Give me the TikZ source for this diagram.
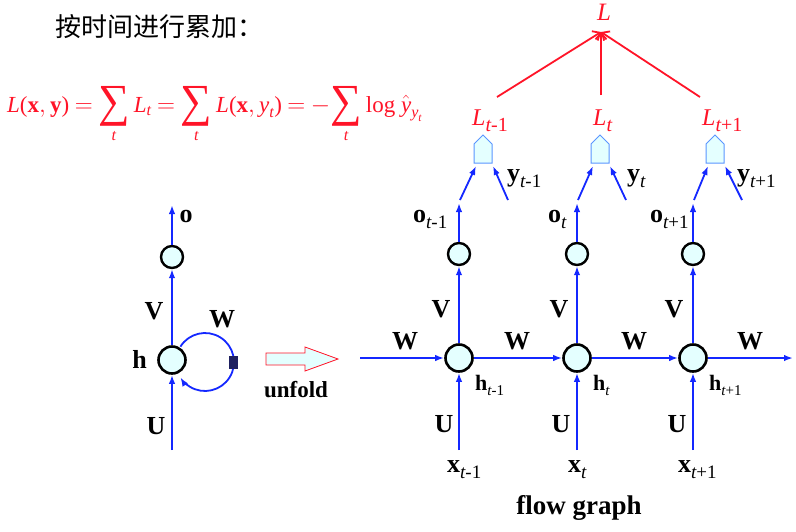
\documentclass[tikz,border=0pt]{standalone}
\usepackage{amsmath}
\usepackage{graphicx}
\usepackage{fontspec}
\setmainfont{Liberation Serif}
\newfontfamily\cjk{Noto Sans CJK SC}
\usetikzlibrary{arrows.meta}
\definecolor{lblue}{RGB}{20,40,255}
\definecolor{cellfill}{RGB}{228,255,255}
\definecolor{lred}{RGB}{255,20,40}
\definecolor{pentline}{RGB}{90,150,255}
\definecolor{navy}{RGB}{30,32,96}
\newcommand\fs[1]{\fontsize{#1}{#1}\selectfont}
\newcommand\lab[5]{{\fs{#3}#1}\raisebox{-#5}{\fs{#4}#2}}
\newcommand\msum{\mathop{\text{\raisebox{-4pt}{\scalebox{1.3}[1.35]{\fs{34}\upshape ∑}}}}\limits_{\text{\itshape t}}}
\begin{document}
\begin{tikzpicture}[x=1pt,y=-1pt,
 conn/.style={draw=lblue,line width=1.8pt,-{Latex[length=9pt,width=6.5pt]}},
 hcell/.style={circle,draw=black,line width=2.6pt,fill=cellfill,inner sep=0pt,minimum size=27pt},
 ocell/.style={circle,draw=black,line width=2.4pt,fill=cellfill,inner sep=0pt,minimum size=22pt},
 big/.style={font=\fs{26}\bfseries,inner sep=0pt},
 sublab/.style={inner sep=0pt,anchor=base west},
 redl/.style={draw=lred,line width=1.8pt,-{Straight Barb[length=6pt,width=11pt]}},
 pent/.style={draw=pentline,line width=1pt,fill=cellfill},
]
\useasboundingbox[fill=white] (0,0) rectangle (796,531);
% title
\node[anchor=base west,inner sep=0pt,font=\cjk\fs{26}] (title) at (55,36) {按时间进行累加：};
% formula
\node[anchor=base west,inner sep=0pt,text=lred,font=\fs{23}] (formula) at (7,112)
 {$\thickmuskip=4mu\text{\itshape L}\text{(}\text{\bfseries x},\text{\bfseries y}\text{)} = \msum \text{\itshape L}_{\text{\itshape t}} = \msum \text{\itshape L}\text{(}\text{\bfseries x}, \text{\itshape y}_{\text{\itshape t}}\text{)} = -\!\msum \text{log}\ \hat{\text{\itshape y}}_{\text{\itshape y}_{\text{\itshape t}}}$};

% ---------- folded graph ----------
\node[ocell] (o0) at (172,257) {};
\node[hcell] (h0) at (172,360) {};
\coordinate (in0) at (172,450);
\coordinate (out0) at (172,205);
\draw[conn] (in0) -- (h0);
\draw[conn] (h0) -- (o0);
\draw[conn] (o0) -- (out0);
\coordinate (lc) at (205,362);
\draw[conn] (lc) ++(-148:29) arc[start angle=-148,end angle=148,radius=29];
\node[fill=navy,minimum width=9pt,minimum height=13pt,inner sep=0pt] (sq) at (233,362) {};
\node[big] (lo) at (186,216) {o};
\node[big] (lV) at (154,311) {V};
\node[big] (lW) at (222,319) {W};
\node[big] (lh) at (139.5,359) {h};
\node[big] (lU) at (156,426) {U};

% unfold arrow
\draw[draw=lred,fill=cellfill,line width=0.8pt] (266,353) -- (305,353) -- (305,347) -- (338,359) -- (305,371) -- (305,365) -- (266,365) -- cycle;
\node[font=\fs{23}\bfseries,inner sep=0pt] (unfold) at (296,390) {unfold};

% ---------- unfolded graph ----------
\foreach \i/\x/\p in {1/459/483,2/577/600,3/693/715}{
  \node[hcell] (h\i) at (\x,358) {};
  \node[ocell] (o\i) at (\x,254) {};
  \coordinate (x\i) at (\x,450);
  \coordinate (ot\i) at (\x,203);
  \draw[conn] (x\i) -- (h\i);
  \draw[conn] (h\i) -- (o\i);
  \draw[conn] (o\i) -- (ot\i);
  \draw[pent] (\p-9,163) -- (\p-9,144) -- (\p,135) -- (\p+9,144) -- (\p+9,163) -- cycle;
  \coordinate (pl\i) at (\p-7,166);
  \coordinate (pr\i) at (\p+10,166);
  \coordinate (os\i) at (\x+1,200);
  \coordinate (ys\i) at (\x+49,200);
  \draw[conn] (os\i) -- (pl\i);
  \draw[conn] (ys\i) -- (pr\i);
}
\coordinate (win) at (360,358);
\coordinate (wout) at (793,358);
\draw[conn] (win) -- (h1);
\draw[conn] (h1) -- (h2);
\draw[conn] (h2) -- (h3);
\draw[conn] (h3) -- (wout);

\foreach \x in {405,517,634,750}{\node[big] at (\x,341) {W};}
\foreach \x in {441,559,674}{\node[big] at (\x,309) {V};}
\foreach \x in {444,561,677}{\node[big] at (\x,424) {U};}

% subscripted labels
\node[sublab] (lo1) at (413,222) {\lab{\bfseries o}{\itshape t\upshape-1}{26}{19}{6pt}};
\node[sublab] (lo2) at (548,222) {\lab{\bfseries o}{\itshape t}{26}{19}{6pt}};
\node[sublab] (lo3) at (650,222) {\lab{\bfseries o}{\itshape t\upshape+1}{26}{19}{6pt}};
\node[sublab] (ly1) at (507,181) {\lab{\bfseries y}{\itshape t\upshape-1}{26}{19}{6pt}};
\node[sublab] (ly2) at (627,181) {\lab{\bfseries y}{\itshape t}{26}{19}{6pt}};
\node[sublab] (ly3) at (737,181) {\lab{\bfseries y}{\itshape t\upshape+1}{26}{19}{6pt}};
\node[sublab] (lx1) at (447,472) {\lab{\bfseries x}{\itshape t\upshape-1}{26}{19}{6pt}};
\node[sublab] (lx2) at (568,472) {\lab{\bfseries x}{\itshape t}{26}{19}{6pt}};
\node[sublab] (lx3) at (678,472) {\lab{\bfseries x}{\itshape t\upshape+1}{26}{19}{6pt}};
\node[sublab] (lh1) at (475,390) {\lab{\bfseries h}{\itshape t\upshape-1}{22}{15}{5pt}};
\node[sublab] (lh2) at (593,390) {\lab{\bfseries h}{\itshape t}{22}{15}{5pt}};
\node[sublab] (lh3) at (709,390) {\lab{\bfseries h}{\itshape t\upshape+1}{22}{15}{5pt}};
\node[sublab,text=lred] (L1) at (472,125) {\lab{\itshape L}{\itshape t\upshape-1}{24}{20}{6pt}};
\node[sublab,text=lred] (L2) at (593,125) {\lab{\itshape L}{\itshape t}{24}{20}{6pt}};
\node[sublab,text=lred] (L3) at (702,125) {\lab{\itshape L}{\itshape t\upshape+1}{24}{20}{6pt}};
\node[anchor=base,inner sep=0pt,text=lred,font=\fs{25}\itshape] (L) at (604,20) {L};

\coordinate (Lb) at (601,32);
\coordinate (r1) at (497,97);
\coordinate (r2) at (601,95);
\coordinate (r3) at (700,97);
\draw[redl] (r1) -- (Lb);
\draw[redl] (r2) -- (Lb);
\draw[redl] (r3) -- (Lb);

\node[font=\fs{27}\bfseries,inner sep=0pt] (flow) at (579,508) {flow graph};
\end{tikzpicture}
\end{document}
